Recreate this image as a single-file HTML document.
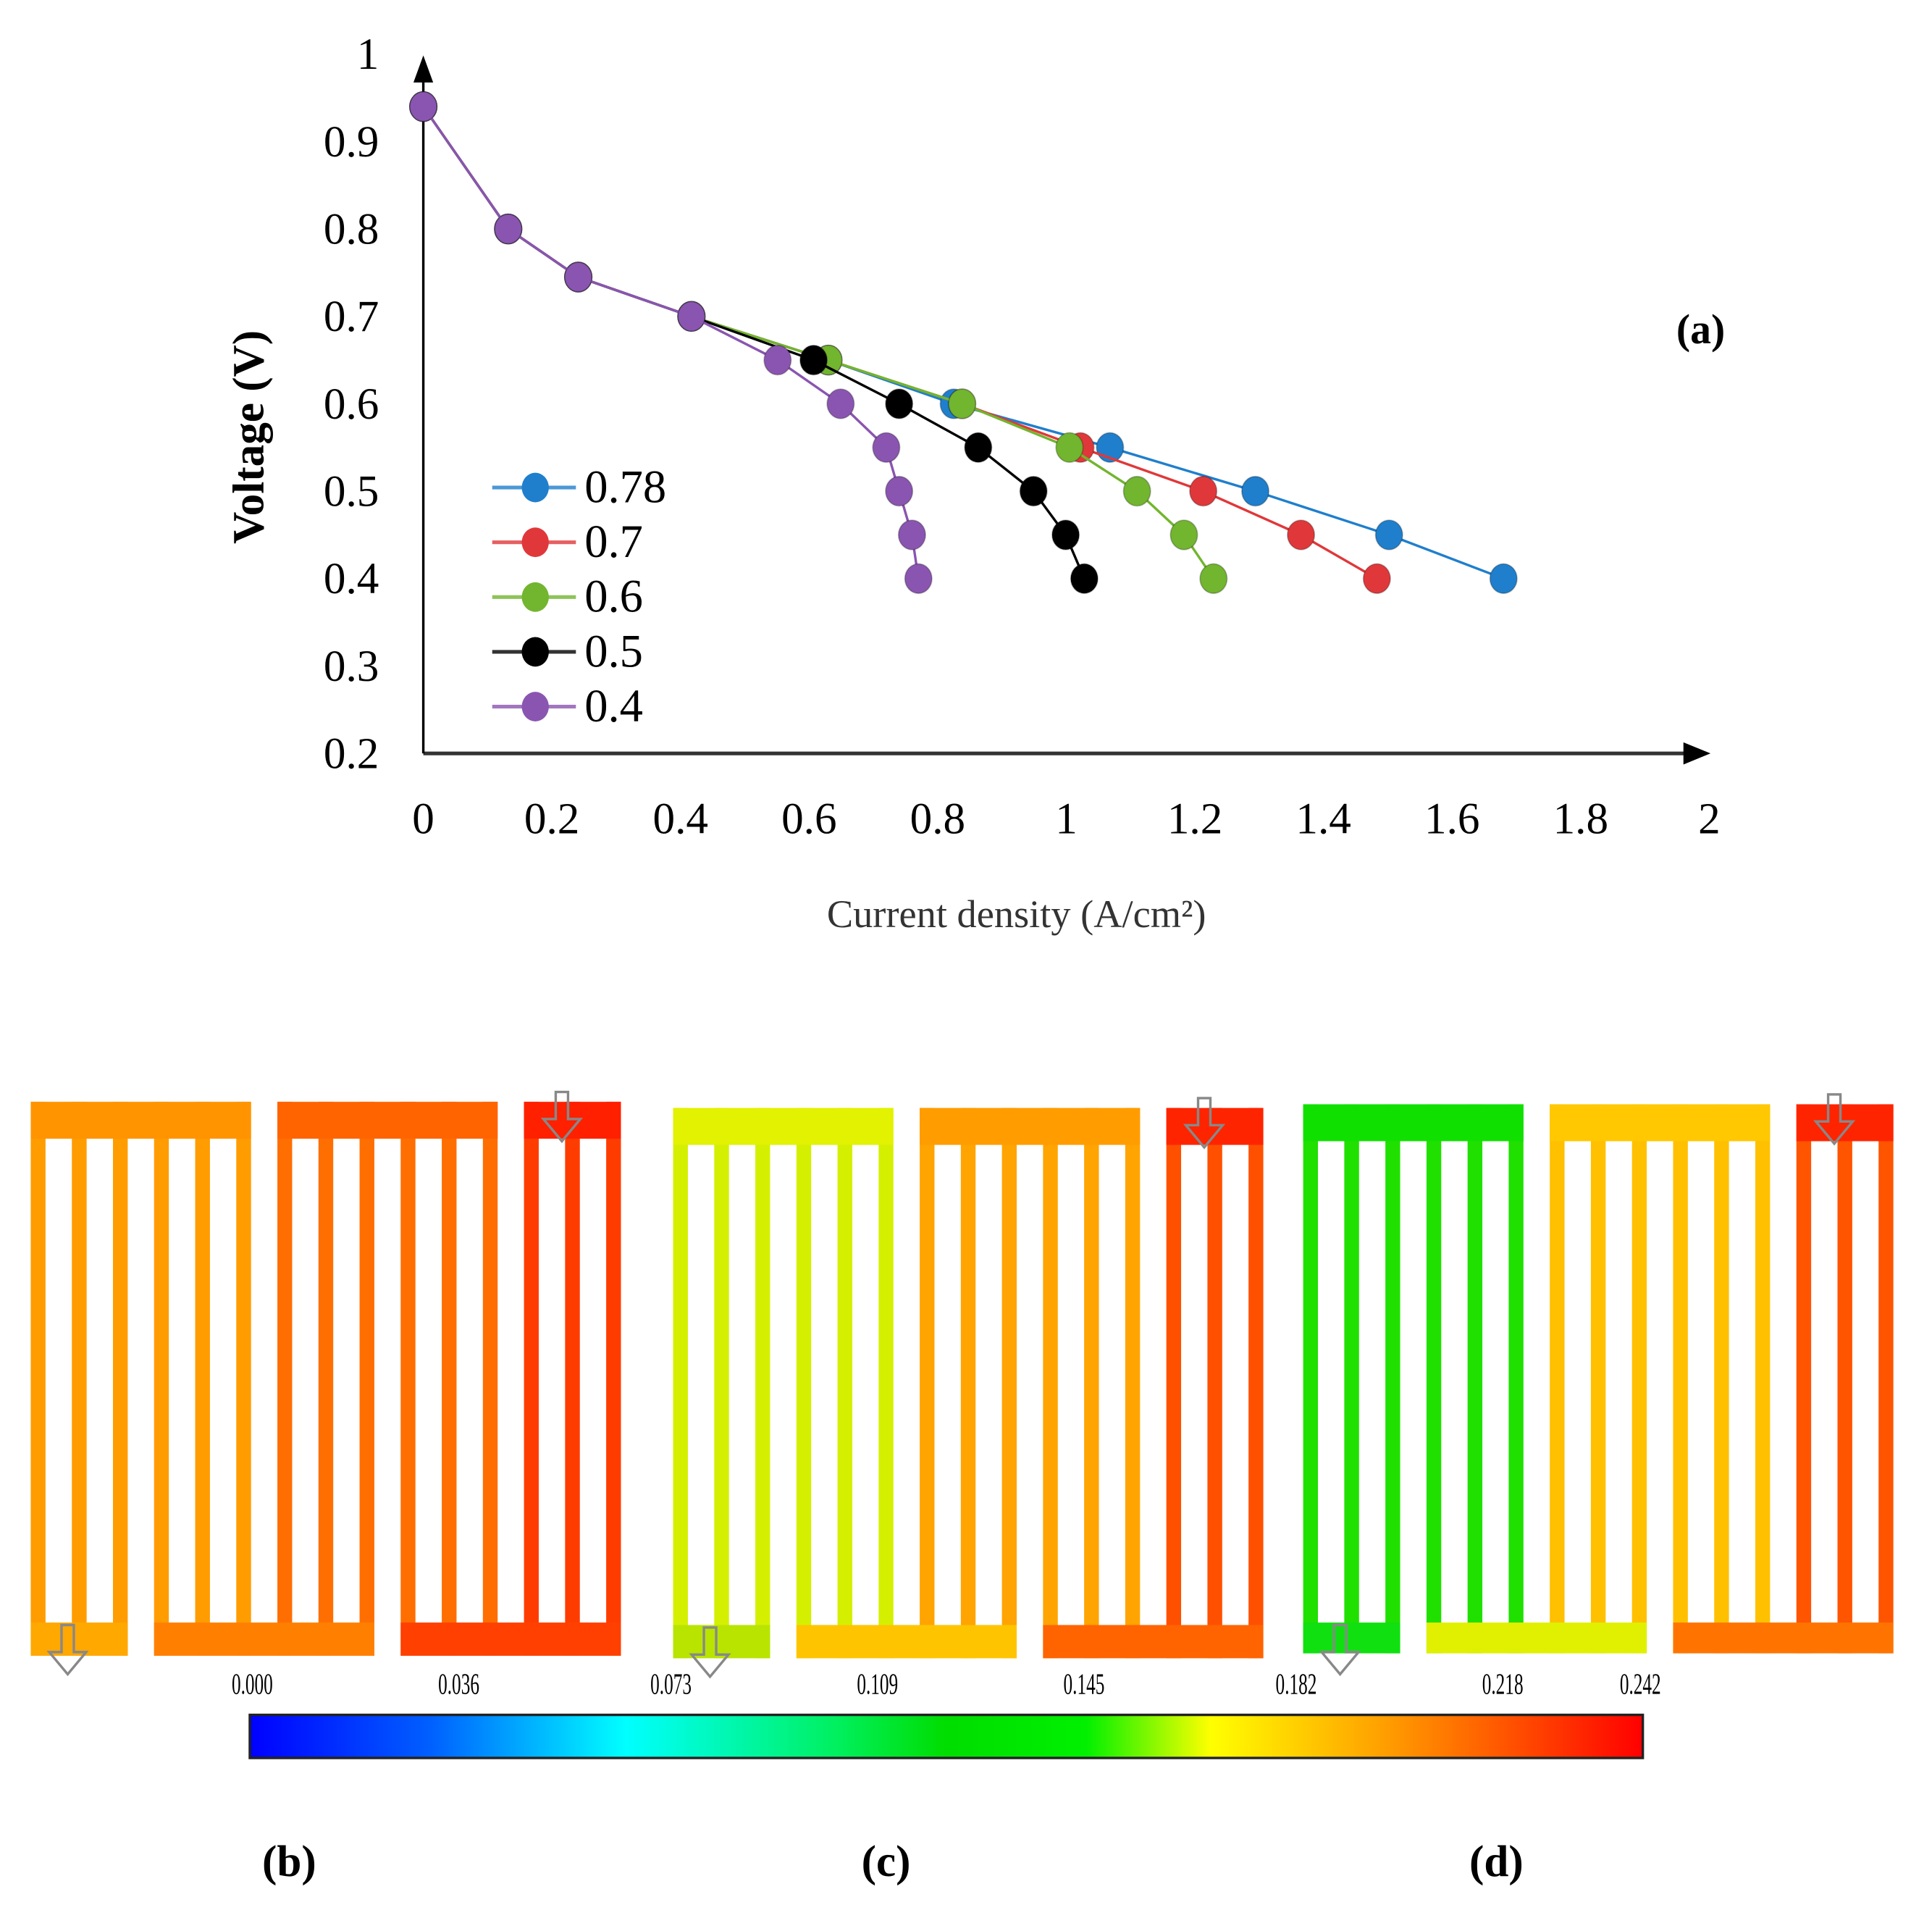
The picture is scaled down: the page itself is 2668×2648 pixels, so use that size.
<!DOCTYPE html>
<html><head><meta charset="utf-8"><style>
html,body{margin:0;padding:0;background:#fff;}
svg{display:block;}
text{font-family:"Liberation Serif",serif;}
</style></head><body>
<svg id="fig" width="2668" height="2648" viewBox="0 0 1570 1558" preserveAspectRatio="none" xmlns="http://www.w3.org/2000/svg">
<defs>
<linearGradient id="cbar" x1="0" x2="1" y1="0" y2="0">
<stop offset="0" stop-color="#0000ff"/><stop offset="0.13" stop-color="#0060ff"/><stop offset="0.27" stop-color="#00ffff"/><stop offset="0.42" stop-color="#00f060"/><stop offset="0.5" stop-color="#00dd00"/><stop offset="0.6" stop-color="#00f000"/><stop offset="0.69" stop-color="#ffff00"/><stop offset="0.82" stop-color="#ff9a00"/><stop offset="1" stop-color="#ff0000"/>
</linearGradient>
</defs>
<g id="chart"></g>
<g id="fields"></g>
<g>
<rect x="203" y="1393" width="1132" height="35" fill="url(#cbar)" stroke="#222" stroke-width="2"/>
</g>
<g id="cbticks" font-family="Liberation Sans" font-size="24"></g>
<text x="235" y="1524" font-size="36" font-weight="bold" text-anchor="middle">(b)</text>
<text x="720" y="1524" font-size="36" font-weight="bold" text-anchor="middle">(c)</text>
<text x="1216" y="1524" font-size="36" font-weight="bold" text-anchor="middle">(d)</text>
</svg>
<script>
const xTicks=["0","0.2","0.4","0.6","0.8","1","1.2","1.4","1.6","1.8","2"];
const yTicks=["0.2","0.3","0.4","0.5","0.6","0.7","0.8","0.9","1"];
const seriesNames=["0.78","0.7","0.6","0.5","0.4"];
const seriesColors=["#1f7fcc","#e0383a","#72b52f","#000000","#8a55b0"];
const x078=[0,0.132,0.241,0.417,0.63,0.825,1.068,1.294,1.502,1.68];
const y078=[0.94,0.80,0.745,0.70,0.65,0.60,0.55,0.50,0.45,0.40];
const x07=[0,0.132,0.241,0.417,0.63,0.838,1.022,1.213,1.365,1.483];
const y07=[0.94,0.80,0.745,0.70,0.65,0.60,0.55,0.50,0.45,0.40];
const x06=[0,0.132,0.241,0.417,0.63,0.838,1.005,1.11,1.183,1.229];
const y06=[0.94,0.80,0.745,0.70,0.65,0.60,0.55,0.50,0.45,0.40];
const x05=[0,0.132,0.241,0.417,0.607,0.74,0.863,0.949,0.999,1.028];
const y05=[0.94,0.80,0.745,0.70,0.65,0.60,0.55,0.50,0.45,0.40];
const x04=[0,0.132,0.241,0.417,0.551,0.649,0.72,0.74,0.76,0.77];
const y04=[0.94,0.80,0.745,0.70,0.65,0.60,0.55,0.50,0.45,0.40];
const cbLabels=["0.000","0.036","0.073","0.109","0.145","0.182","0.218","0.242"];
const cbValues=[0,0.036,0.073,0.109,0.145,0.182,0.218,0.242];

const NS="http://www.w3.org/2000/svg";
function mk(tag,attrs,parent){const e=document.createElementNS(NS,tag);for(const k in attrs)e.setAttribute(k,attrs[k]);parent.appendChild(e);return e;}
const X=v=>344+v*522.5;
const Y=v=>612-(v-0.2)*710;
const chart=document.getElementById('chart');

let a=mk('line',{x1:344,y1:612,x2:1375,y2:612,stroke:'#333','stroke-width':3},chart);

a=mk('polygon',{points:'1390,612 1368,603 1368,621',fill:'#000'},chart);

a=mk('line',{x1:344,y1:612,x2:344,y2:58,stroke:'#000','stroke-width':2},chart);

a=mk('polygon',{points:'344,45 336,67 352,67',fill:'#000'},chart);


xTicks.forEach((t,i)=>{const e=mk('text',{x:X(i*0.2),y:677,'font-size':36,'text-anchor':'middle'},chart);e.textContent=t;
});
yTicks.forEach((t,i)=>{const e=mk('text',{x:308,y:Y(0.2+i*0.1)+12,'font-size':36,'text-anchor':'end'},chart);e.textContent=t;
});
let t=mk('text',{x:826,y:753,'font-size':32,'text-anchor':'middle',fill:'#333'},chart);t.textContent='Current density (A/cm²)';

t=mk('text',{x:0,y:0,'font-size':36,'text-anchor':'middle','font-weight':'bold',transform:'translate(214,355) rotate(-90)'},chart);t.textContent='Voltage (V)';

t=mk('text',{x:1382,y:279,'font-size':34,'font-weight':'bold','text-anchor':'middle'},chart);t.textContent='(a)';


const allX=[x078,x07,x06,x05,x04],allY=[y078,y07,y06,y05,y04];
allX.forEach((xs,s)=>{
  const g=mk('g',{},chart);
  
  const pts=xs.map((v,i)=>X(v)+','+Y(allY[s][i])).join(' ');
  mk('polyline',{points:pts,fill:'none',stroke:seriesColors[s],'stroke-width':2},g);
  xs.forEach((v,i)=>{const c=mk('ellipse',{cx:X(v),cy:Y(allY[s][i]),rx:11,ry:12,fill:seriesColors[s],stroke:'rgba(0,0,0,0.25)','stroke-width':1},g);
  });
});
seriesNames.forEach((n,i)=>{const y=396+i*44.5;const g=mk('g',{},chart);

mk('line',{x1:400,y1:y,x2:468,y2:y,stroke:seriesColors[i],'stroke-width':3,opacity:0.8},g);
mk('ellipse',{cx:435,cy:y,rx:11,ry:12,fill:seriesColors[i]},g);
const e=mk('text',{x:475,y:y+12,'font-size':38},g);e.textContent=n;});

const fields=document.getElementById('fields');
const panels=[
 {x0:25,ty:895,by:1318,bb:1345,top:['#ff9400','#ff6400','#ff2000'],bot:['#ffa800','#ff8000','#ff4000'],rib:['#ff9c00','#ff6e00','#ff3c00']},
 {x0:547,ty:900,by:1320,bb:1347,top:['#e2f200','#ff9c00','#ff2400'],bot:['#b8e400','#ffc400','#ff6400'],rib:['#d4f000','#ffa400','#ff5000']},
 {x0:1059,ty:897,by:1318,bb:1343,top:['#10e000','#ffc800','#ff2400'],bot:['#10e010','#e0f000','#ff7400'],rib:['#20e000','#ffc000','#ff5400']}
];
const P=33.4,RW=12;
panels.forEach((p,pi)=>{
 const g=mk('g',{},fields);
 
 for(let k=0;k<15;k++){mk('rect',{x:p.x0+k*P,y:p.ty,width:RW,height:p.bb-p.ty,fill:p.rib[Math.floor(k/6)]},g);}
 const tops=[[0,5],[6,11],[12,14]];
 tops.forEach((r,i)=>mk('rect',{x:p.x0+r[0]*P,y:p.ty,width:(r[1]-r[0])*P+RW,height:30,fill:p.top[i]},g));
 const bots=[[0,2],[3,8],[9,14]];
 bots.forEach((r,i)=>mk('rect',{x:p.x0+r[0]*P,y:p.by,width:(r[1]-r[0])*P+RW,height:p.bb-p.by,fill:p.bot[i]},g));
 const arrow=(cx,y1)=>{const a=mk('polygon',{points:`${cx-5},${y1} ${cx+5},${y1} ${cx+5},${y1+22} ${cx+15},${y1+22} ${cx},${y1+40} ${cx-15},${y1+22} ${cx-5},${y1+22}`,fill:'none',stroke:'#888','stroke-width':2},g);
 };
 arrow(p.x0+14*P-36,p.ty-8);
 arrow(p.x0+30,p.by+2);
});

const cb=document.getElementById('cbticks');
cbValues.forEach((v,i)=>{const x=205+v/0.242*1128;
 const e=mk('text',{x:0,y:0,'text-anchor':'middle',transform:`translate(${x},1376) scale(0.62,1)`},cb);e.textContent=cbLabels[i];
 });
</script>
</body></html>
